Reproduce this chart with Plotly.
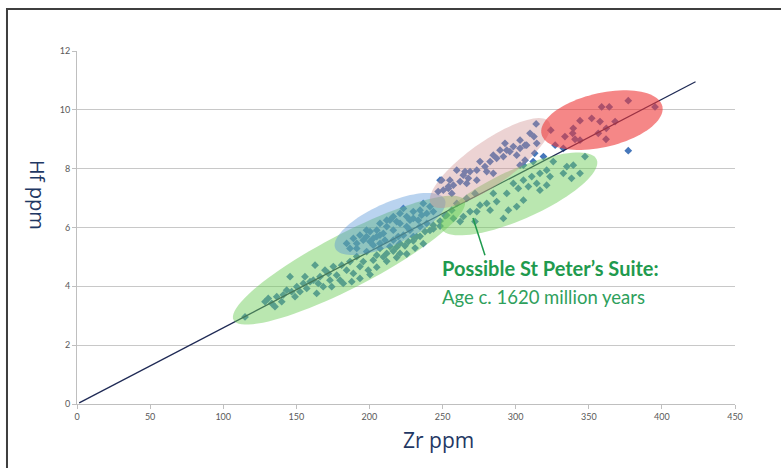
import math
import plotly.graph_objects as go

# Zr (ppm) / Hf (ppm) analyses, grouped by population
zr_lower = [114.9, 128.6, 133.2, 136.6, 141.1, 140.0, 145.7, 146.8, 150.3, 154.8, 152.5, 155.9,
            159.4, 162.8, 161.6, 166.2, 165.0, 169.6, 171.9, 173.0, 175.3, 177.6, 179.9, 181.0,
            184.4, 186.7, 189.0, 191.3, 193.5, 195.8, 198.1, 199.2, 202.6, 205.0, 207.2, 209.5,
            211.8, 214.0, 216.3, 218.6, 220.9, 224.3, 226.6, 230.0, 232.3, 234.6, 238.0, 241.4,
            243.7, 248.3, 251.7, 186.7, 191.3, 202.6, 210.6, 223.2, 227.7, 234.6, 216.3, 219.7,
            207.2, 230.0, 239.2, 135.4, 130.8, 143.4, 149.1, 157.1, 163.9, 168.4, 174.2, 182.1,
            187.9, 193.5, 200.4, 205.0, 211.8, 218.6, 220.9, 225.5, 231.2, 236.8, 243.7, 248.3]
hf_lower = [2.96, 3.48, 3.42, 3.65, 3.71, 3.48, 4.33, 3.82, 3.99, 4.10, 3.82, 4.33,
            4.16, 4.72, 4.21, 4.33, 4.10, 4.55, 4.44, 4.21, 4.67, 4.38, 4.21, 4.72,
            4.55, 4.84, 4.44, 5.01, 4.67, 4.84, 5.18, 4.55, 4.89, 5.06, 5.29, 5.00,
            5.12, 5.35, 5.20, 5.33, 5.46, 5.38, 5.52, 5.55, 5.69, 5.70, 5.86, 5.90,
            6.08, 6.22, 6.40, 5.29, 5.29, 5.40, 5.57, 5.74, 5.91, 6.03, 5.57, 5.69,
            5.46, 5.69, 6.14, 3.31, 3.59, 3.87, 3.65, 3.93, 3.76, 3.99, 3.99, 4.10,
            4.16, 4.27, 4.40, 4.65, 4.85, 4.98, 5.12, 5.10, 5.30, 5.45, 5.95, 6.05]

zr_blue = [184.4, 189.0, 193.5, 198.0, 200.4, 205.0, 207.2, 211.8, 214.0, 218.6, 220.9, 225.5,
           230.0, 234.6, 236.8, 239.2, 241.4, 233.4, 225.5, 216.3, 202.6, 191.3, 209.5, 198.0,
           207.2, 220.9, 227.7, 243.7, 200.4, 195.8, 211.8, 216.3, 230.0, 235.7, 223.2, 205.0]
hf_blue = [5.46, 5.63, 5.74, 5.69, 5.86, 5.91, 6.14, 6.03, 6.25, 6.20, 6.48, 6.37,
           6.54, 6.59, 6.82, 6.48, 6.71, 6.25, 6.03, 5.91, 5.63, 5.46, 5.80, 5.91,
           5.74, 6.14, 6.25, 6.54, 5.52, 5.57, 6.25, 6.37, 6.31, 6.42, 6.65, 5.69]

zr_upper = [347.4, 339.4, 335.0, 332.6, 325.7, 321.2, 316.6, 323.5, 314.4, 311.0, 305.3, 308.7,
            301.8, 298.4, 293.9, 305.3, 300.7, 295.0, 291.6, 287.0, 284.7, 280.2, 275.6, 282.5,
            273.4, 268.8, 272.2, 264.2, 262.0, 266.5, 272.2, 259.7, 256.3, 257.4, 252.8, 338.2,
            344.0, 316.6, 321.2]
hf_upper = [8.41, 8.12, 8.07, 7.84, 8.24, 7.95, 7.84, 7.73, 7.50, 7.73, 7.61, 7.39,
            7.33, 7.50, 7.16, 6.93, 6.71, 6.59, 6.31, 6.88, 7.16, 6.82, 6.76, 6.59,
            6.54, 6.54, 6.20, 6.37, 6.20, 6.99, 7.16, 6.82, 6.59, 6.31, 6.42, 7.67,
            7.84, 7.27, 7.44]

zr_pink = [314.0, 309.8, 312.5, 306.4, 303.0, 298.4, 296.0, 300.7, 292.7, 289.3, 291.6, 287.0,
           282.5, 284.7, 279.0, 275.6, 273.4, 280.2, 268.8, 267.6, 264.2, 262.0, 259.7, 257.4,
           254.0, 250.5, 248.3, 255.0, 273.4, 284.7, 306.4, 303.0, 249.4, 247.0, 254.0, 265.4,
           293.9, 307.5, 314.4, 266.5, 256.3]
hf_pink = [9.52, 9.20, 9.09, 8.80, 8.69, 8.75, 8.58, 8.46, 8.86, 8.63, 8.41, 8.35,
           8.24, 8.46, 8.07, 8.24, 7.95, 7.90, 7.90, 7.67, 7.78, 7.56, 7.95, 7.44,
           7.33, 7.27, 7.61, 7.61, 7.61, 7.84, 8.29, 8.97, 7.61, 7.22, 7.39, 7.90,
           8.63, 8.80, 8.86, 7.50, 7.16]

zr_red = [377.0, 358.8, 364.0, 395.3, 344.0, 352.0, 357.7, 368.0, 324.0, 339.4, 339.0, 333.7,
          340.6, 344.0, 356.5, 362.0, 361.8, 327.0, 332.6]
hf_red = [10.31, 10.10, 10.10, 10.10, 9.63, 9.71, 9.60, 9.60, 9.31, 9.37, 9.20, 9.09,
          9.00, 8.97, 9.20, 9.37, 9.00, 8.80, 8.69]

# analyses outside the outlined fields
zr_other = [377.0, 305.3, 312.0, 319.0, 313.0, 303.0]
hf_other = [8.61, 8.12, 8.24, 8.41, 8.52, 8.12]

# regression line through the origin
trend_slope = 0.0259
trend_zr = [1.5, 423.0]

x_ticks = [0, 50, 100, 150, 200, 250, 300, 350, 400, 450]
y_ticks = [0, 2, 4, 6, 8, 10, 12]

# outlined fields: centre (Zr, Hf), half-length, half-width (Zr units on screen), tilt in degrees
fields = [
    dict(c=(186.0, 4.89), a=88.9, b=18.5, ang=27.4, color="rgb(110,205,90)", op=0.48),
    dict(c=(302.3, 7.14), a=58.1, b=17.1, ang=24.0, color="rgb(110,205,90)", op=0.48),
    dict(c=(214.1, 6.12), a=41.0, b=14.4, ang=24.0, color="rgb(80,145,215)", op=0.4),
    dict(c=(282.5, 8.19), a=49.2, b=15.0, ang=35.0, color="rgb(205,140,140)", op=0.38),
    dict(c=(359.0, 9.65), a=42.4, b=18.5, ang=13.0, color="rgb(238,55,55)", op=0.6),
]

X_RANGE = [0, 450]
Y_RANGE = [0, 12]
PLOT_W, PLOT_H = 658, 353
ASPECT = (PLOT_H / (Y_RANGE[1] - Y_RANGE[0])) / (PLOT_W / (X_RANGE[1] - X_RANGE[0]))


def ellipse_path(c, a, b, ang, n=90):
    th = math.radians(ang)
    cx, cy = c[0], c[1] * ASPECT
    pts = []
    for i in range(n):
        t = 2 * math.pi * i / n
        x = cx + a * math.cos(th) * math.cos(t) - b * math.sin(th) * math.sin(t)
        y = cy + a * math.sin(th) * math.cos(t) + b * math.cos(th) * math.sin(t)
        pts.append(f"{x:.3f},{y / ASPECT:.4f}")
    return "M " + " L ".join(pts) + " Z"


fig = go.Figure()

point_color = "#4677BA"
for zr, hf in [(zr_lower, hf_lower), (zr_blue, hf_blue), (zr_upper, hf_upper),
               (zr_pink, hf_pink), (zr_red, hf_red), (zr_other, hf_other)]:
    fig.add_trace(go.Scatter(x=zr, y=hf, mode="markers",
                             marker=dict(symbol="diamond", size=6, color=point_color),
                             showlegend=False, hoverinfo="x+y"))

fig.add_trace(go.Scatter(x=trend_zr, y=[z * trend_slope for z in trend_zr], mode="lines",
                         line=dict(color="#1F2A55", width=1.3), showlegend=False))

shapes = []
for f in fields:
    shapes.append(dict(type="path", xref="x", yref="y", path=ellipse_path(f["c"], f["a"], f["b"], f["ang"]),
                       fillcolor=f["color"], opacity=f["op"], line=dict(width=0), layer="above"))

green_text = "#1F9A4E"
# pointer from the label to the green field
shapes.append(dict(type="line", xref="x", yref="y", x0=279.0, y0=5.06, x1=270.8, y1=6.32,
                   line=dict(color=green_text, width=1.5), layer="above"))
# chart frame
shapes.append(dict(type="rect", xref="paper", yref="paper", x0=-0.1064, x1=1.09, y0=-0.2, y1=1.119,
                   line=dict(color="#3F3F3F", width=2), fillcolor="rgba(0,0,0,0)", layer="above"))

navy = "#1F3864"
annotations = [
    dict(x=248.3, y=4.64, xref="x", yref="y", text="<b>Possible St Peter’s Suite:</b>", showarrow=False,
         xanchor="left", yanchor="middle", font=dict(family="Lato", size=20, color=green_text)),
    dict(x=248.3, y=3.64, xref="x", yref="y", text="Age c. 1620 million years", showarrow=False,
         xanchor="left", yanchor="middle", font=dict(family="Lato", size=18.5, color="#2EA05C")),
    dict(x=(438 - 77) / PLOT_W, y=(404 - 440) / PLOT_H, xref="paper", yref="paper", text="Zr ppm",
         showarrow=False, xanchor="center", yanchor="middle", font=dict(family="Open Sans", size=21, color=navy)),
    dict(x=(38 - 77) / PLOT_W, y=(404 - 195) / PLOT_H, xref="paper", yref="paper", text="Hf ppm",
         textangle=90, showarrow=False, xanchor="center", yanchor="middle",
         font=dict(family="Open Sans", size=20, color=navy)),
]

fig.update_layout(
    width=781, height=468,
    margin=dict(l=77, r=781 - 77 - PLOT_W, t=51, b=468 - 51 - PLOT_H),
    paper_bgcolor="white", plot_bgcolor="white",
    shapes=shapes, annotations=annotations,
    xaxis=dict(range=X_RANGE, tickvals=x_ticks, showgrid=False, zeroline=False,
               showline=True, linecolor="#BFBFBF", linewidth=1, ticks="outside", ticklen=4,
               tickcolor="#BFBFBF", tickfont=dict(family="Lato", size=9, color="#595959")),
    yaxis=dict(range=Y_RANGE, tickvals=y_ticks, showgrid=True, gridcolor="#C8C8C8", gridwidth=1,
               zeroline=False, showline=True, linecolor="#BFBFBF", linewidth=1, ticks="outside",
               ticklen=4, tickcolor="#BFBFBF", tickfont=dict(family="Lato", size=9, color="#595959")),
)

fig.write_html("out.html")
